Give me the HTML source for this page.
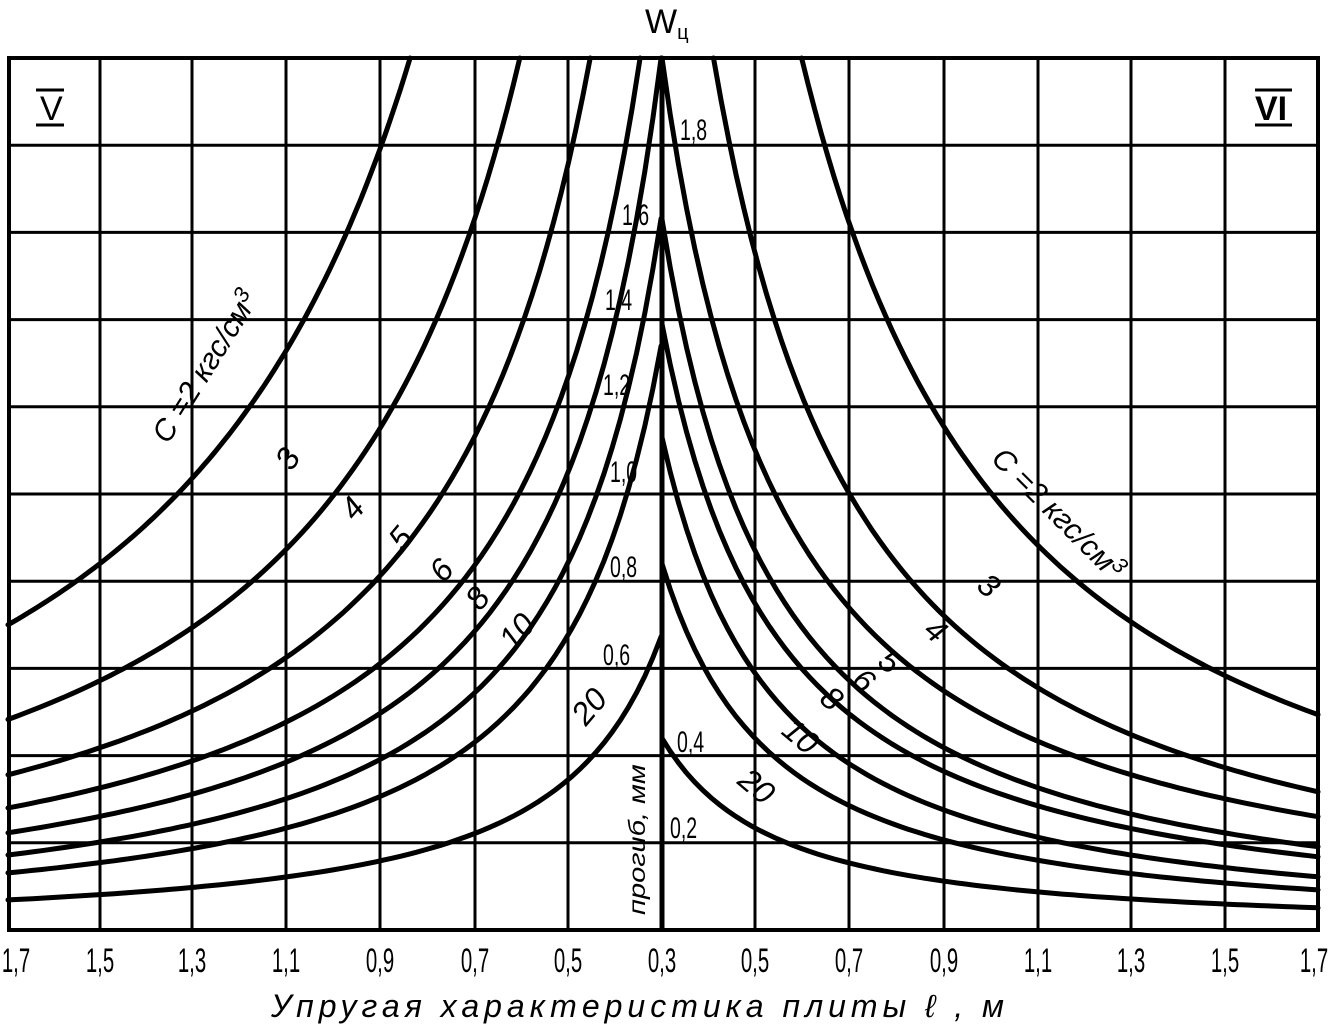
<!DOCTYPE html>
<html><head><meta charset="utf-8"><style>
html,body{margin:0;padding:0;background:#fff;}
svg{display:block;}
text{font-family:"Liberation Sans","DejaVu Sans",sans-serif;fill:#000;}
</style></head><body>
<svg id="s" width="1336" height="1033" viewBox="0 0 1336 1033" xmlns="http://www.w3.org/2000/svg">
<g id="grid" stroke="#000" stroke-width="3" fill="none"></g>
<g id="curves" stroke="#000" stroke-width="5" fill="none" stroke-linecap="round"></g>
<line x1="662" y1="58" x2="662" y2="930" stroke="#000" stroke-width="5"/>
<rect x="9" y="58" width="1309" height="872" fill="none" stroke="#000" stroke-width="4"/>
<g font-size="30">
<text x="40" y="120" font-size="34">V</text>
<line x1="36" y1="90" x2="64" y2="90" stroke="#000" stroke-width="3"/>
<line x1="36" y1="125" x2="64" y2="125" stroke="#000" stroke-width="3"/>
<text x="1255" y="120" font-size="34" font-weight="bold">VI</text>
<line x1="1255" y1="90" x2="1292" y2="90" stroke="#000" stroke-width="3"/>
<line x1="1255" y1="125" x2="1292" y2="125" stroke="#000" stroke-width="3"/>
<text x="645" y="33" font-size="34">W<tspan font-size="20" dy="6">ц</tspan></text>
</g>
<g id="cl" font-size="30"></g>
<text font-size="29" font-style="italic" transform="translate(645,915) rotate(-90) scale(1,0.8)">прогиб, мм</text>
<g font-size="30" font-style="italic">
<text transform="translate(168,445) rotate(-58)">C =2 кгс/см<tspan dy="-10" font-size="22">3</tspan></text>
<text transform="translate(292,472) rotate(-58)" font-size="32">3</text>
<text transform="translate(355,522) rotate(-50)" font-size="32">4</text>
<text transform="translate(403,552) rotate(-50)" font-size="32">5</text>
<text transform="translate(444,584) rotate(-50)" font-size="32">6</text>
<text transform="translate(480,612) rotate(-50)" font-size="32">8</text>
<text transform="translate(513,652) rotate(-48)" font-size="32">10</text>
<text transform="translate(586,727) rotate(-50)" font-size="32">20</text>
<text transform="translate(990,460) rotate(45)">C =2 кгс/см<tspan dy="-10" font-size="22">3</tspan></text>
<text transform="translate(975,588) rotate(40)" font-size="32">3</text>
<text transform="translate(922,633) rotate(40)" font-size="32">4</text>
<text transform="translate(876,664) rotate(40)" font-size="32">5</text>
<text transform="translate(850,683) rotate(40)" font-size="32">6</text>
<text transform="translate(818,701) rotate(40)" font-size="32">8</text>
<text transform="translate(780,733) rotate(40)" font-size="32">10</text>
<text transform="translate(736,783) rotate(40)" font-size="32">20</text>
</g>
<g id="ticks" font-size="34" text-anchor="middle"></g>
<text x="640" y="1017" font-size="32" font-style="italic" text-anchor="middle" letter-spacing="5">Упругая  характеристика  плиты  ℓ , м</text>
</svg>
<script>
var ns="http://www.w3.org/2000/svg";
function el(p,t,a){var e=document.createElementNS(ns,t);for(var k in a)e.setAttribute(k,a[k]);document.getElementById(p).appendChild(e);return e;}
for(var i=1;i<10;i++){var y=930-i*87.2;el("grid","line",{x1:9,y1:y,x2:1318,y2:y});}
var vx=[100,192,286,380,475,568,755,849,944,1038,1131,1225];
vx.forEach(function(x){el("grid","line",{x1:x,y1:58,x2:x,y2:930});});
var lab=["1,7","1,5","1,3","1,1","0,9","0,7","0,5","0,3","0,5","0,7","0,9","1,1","1,3","1,5","1,7"];
var lx=[16,100,192,286,380,475,568,662,755,849,944,1038,1131,1225,1314];
lab.forEach(function(t,i){var e=el("ticks","text",{transform:"translate("+lx[i]+",972) scale(0.6,1)",x:0,y:0});e.textContent=t;});
var cls=[["1,8",680,140],["1,6",622,225],["1,4",605,310],["1,2",603,395],["1,0",610,482],["0,8",610,577],["0,6",603,665],["0,4",677,752],["0,2",670,838]];
cls.forEach(function(c){var e=el("cl","text",{transform:"translate("+c[1]+","+c[2]+") scale(0.65,1)",x:0,y:0});e.textContent=c[0];});
function XL(l){return 8+(1.7-l)*466.5;}
function XR(l){return 662+(l-0.3)*468.6;}
function Y(w){return 930-w*436;}
function curve(l1,w1,l2,w2,X){
 var p=Math.log(w1/w2)/Math.log(l2/l1);var d="";
 for(var k=0;k<=80;k++){var l=l1+(l2-l1)*k/80;var w=w1*Math.pow(l/l1,-p);d+=(k?"L":"M")+X(l).toFixed(1)+","+Y(w).toFixed(1);}
 el("curves","path",{d:d});
}
[[0.838,2.0,0.70],[0.603,2.0,0.483],[0.452,2.0,0.356],[0.345,2.0,0.28],[0.3,2.0,0.223],[0.3,1.632,0.172],[0.3,1.34,0.131],[0.3,0.673,0.069]]
.forEach(function(c){curve(c[0],c[1],1.7,c[2],XL);});
[[0.598,2.0,0.494],[0.41,2.0,0.317],[0.3,2.0,0.26],[0.3,1.63,0.191],[0.3,1.39,0.168],[0.3,1.13,0.122],[0.3,0.84,0.092],[0.3,0.44,0.051]]
.forEach(function(c){curve(c[0],c[1],1.7,c[2],XR);});
</script>
</body></html>
